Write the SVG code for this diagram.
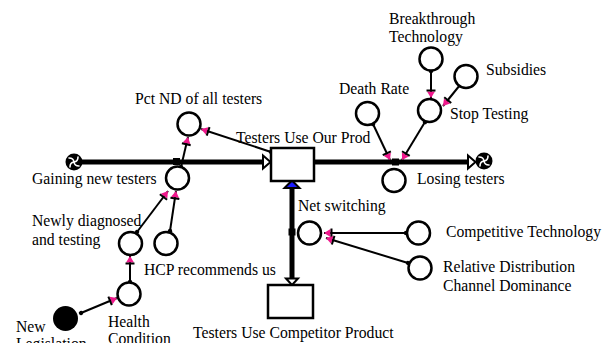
<svg xmlns="http://www.w3.org/2000/svg" width="613" height="343" viewBox="0 0 613 343">
<style>
text{font-family:"Liberation Serif","Times New Roman",serif;font-size:15.7px;fill:#000}
.aux{fill:#fff;stroke:#000;stroke-width:2.5}
.stock{fill:#fff;stroke:#000;stroke-width:2.5}
.pipe{stroke:#000;stroke-width:5;fill:none}
.link{stroke:#000;stroke-width:2;fill:none;marker-end:url(#pa);marker-start:url(#dot)}
.hollow{fill:#fff;stroke:#000;stroke-width:2}
</style>
<defs>
<marker id="pa" markerUnits="userSpaceOnUse" markerWidth="14" markerHeight="14" viewBox="-10 -7 14 14" refX="0" refY="0" orient="auto" overflow="visible">
<path d="M0,0 L-6.5,-4 L-6.5,4 Z" fill="#f0188c"/>
<rect x="-8.5" y="-4.5" width="2" height="9" fill="#000"/>
</marker>
<marker id="dot" markerUnits="userSpaceOnUse" markerWidth="6" markerHeight="6" viewBox="-3 -3 6 6" refX="0" refY="0" orient="auto" overflow="visible">
<circle r="2.2" fill="#000"/>
</marker>
<g id="cloud">
<circle r="8.5" fill="#000"/>
<g stroke="#fff" stroke-width="1.6" fill="none" stroke-linecap="round">
<path d="M0,0 Q4,-0.5 4,-5"/>
<path d="M0,0 Q0.5,4 5,4"/>
<path d="M0,0 Q-4,0.5 -4,5"/>
<path d="M0,0 Q-0.5,-4 -5,-4"/>
</g>
</g>
</defs>

<g id="connectors">
<!-- flows -->
<line class="pipe" x1="80" y1="162" x2="264" y2="162"/>
<polygon class="hollow" points="263,155.5 270.5,162 263,168.5"/>
<line class="pipe" x1="314" y1="162" x2="469" y2="162"/>
<polygon class="hollow" points="468,155.5 475.5,162 468,168.5"/>
<line class="pipe" x1="292" y1="187" x2="292" y2="278"/>
<polygon points="284.5,188 292,180.5 299.5,188" fill="#1a1aff" stroke="#000" stroke-width="2"/>
<polygon class="hollow" points="286,278.5 292,285 298,278.5"/>
<!-- valve junctions -->
<rect x="173" y="158" width="7" height="7" fill="#000"/>
<rect x="392" y="158.5" width="7" height="7" fill="#000"/>
<rect x="288.5" y="228.5" width="7" height="7" fill="#000"/>
<!-- links -->
<line class="link" x1="271" y1="152" x2="201" y2="129"/>
<line class="link" x1="181" y1="167" x2="188" y2="137"/>
<line class="link" x1="137" y1="232" x2="168" y2="191"/>
<line class="link" x1="170" y1="231" x2="176" y2="191"/>
<line class="link" x1="130" y1="282" x2="130" y2="256"/>
<line class="link" x1="81" y1="313" x2="117" y2="298"/>
<line class="link" x1="373" y1="124" x2="390" y2="160"/>
<line class="link" x1="425" y1="122" x2="402" y2="160"/>
<line class="link" x1="431" y1="71" x2="431" y2="98"/>
<line class="link" x1="460" y1="85" x2="443" y2="106"/>
<line class="link" x1="406" y1="233" x2="324" y2="233"/>
<line class="link" x1="408" y1="263" x2="326" y2="238"/>
</g>

<g id="cloud-left"><use href="#cloud" x="74" y="162"/></g>
<g id="cloud-right"><use href="#cloud" x="484" y="161"/></g>

<g id="testers-use-our-prod">
<rect class="stock" x="271" y="148" width="43" height="33"/>
<text x="236" y="143">Testers Use Our Prod</text>
</g>
<g id="testers-use-competitor-product">
<rect class="stock" x="268" y="285" width="45" height="33"/>
<text x="193" y="338">Testers Use Competitor Product</text>
</g>
<g id="gaining-new-testers">
<circle class="aux" cx="177.5" cy="178" r="11.5"/>
<text x="32" y="184">Gaining new testers</text>
</g>
<g id="pct-nd">
<circle class="aux" cx="189" cy="124" r="11.5"/>
<text x="135" y="104">Pct ND of all testers</text>
</g>
<g id="newly-diagnosed">
<circle class="aux" cx="130.5" cy="243.5" r="11.5"/>
<text x="32" y="226">Newly diagnosed</text>
<text x="32" y="245">and testing</text>
</g>
<g id="hcp-recommends">
<circle class="aux" cx="166" cy="243.5" r="11.5"/>
<text x="144" y="275">HCP recommends us</text>
</g>
<g id="health-condition">
<circle class="aux" cx="129" cy="294" r="11.5"/>
<text x="108" y="327">Health</text>
<text x="108" y="344">Condition</text>
</g>
<g id="new-legislation">
<circle cx="65.5" cy="318.5" r="12.5" fill="#000"/>
<text x="16" y="332">New</text>
<text x="16" y="349">Legislation</text>
</g>
<g id="net-switching">
<circle class="aux" cx="309.5" cy="233" r="11.5"/>
<text x="298" y="211">Net switching</text>
</g>
<g id="competitive-technology">
<circle class="aux" cx="418.5" cy="233" r="11.5"/>
<text x="446" y="237">Competitive Technology</text>
</g>
<g id="relative-distribution">
<circle class="aux" cx="420" cy="268" r="11.5"/>
<text x="443" y="272">Relative Distribution</text>
<text x="443" y="291">Channel Dominance</text>
</g>
<g id="losing-testers">
<circle class="aux" cx="394" cy="180.5" r="11.5"/>
<text x="417" y="184">Losing testers</text>
</g>
<g id="death-rate">
<circle class="aux" cx="367.5" cy="113.5" r="11.5"/>
<text x="339" y="94">Death Rate</text>
</g>
<g id="stop-testing">
<circle class="aux" cx="429.5" cy="110.5" r="11.5"/>
<text x="450" y="119">Stop Testing</text>
</g>
<g id="breakthrough-technology">
<circle class="aux" cx="431" cy="59" r="11.5"/>
<text x="389" y="24">Breakthrough</text>
<text x="389" y="42">Technology</text>
</g>
<g id="subsidies">
<circle class="aux" cx="466" cy="76.5" r="11.5"/>
<text x="486" y="75">Subsidies</text>
</g>
</svg>
